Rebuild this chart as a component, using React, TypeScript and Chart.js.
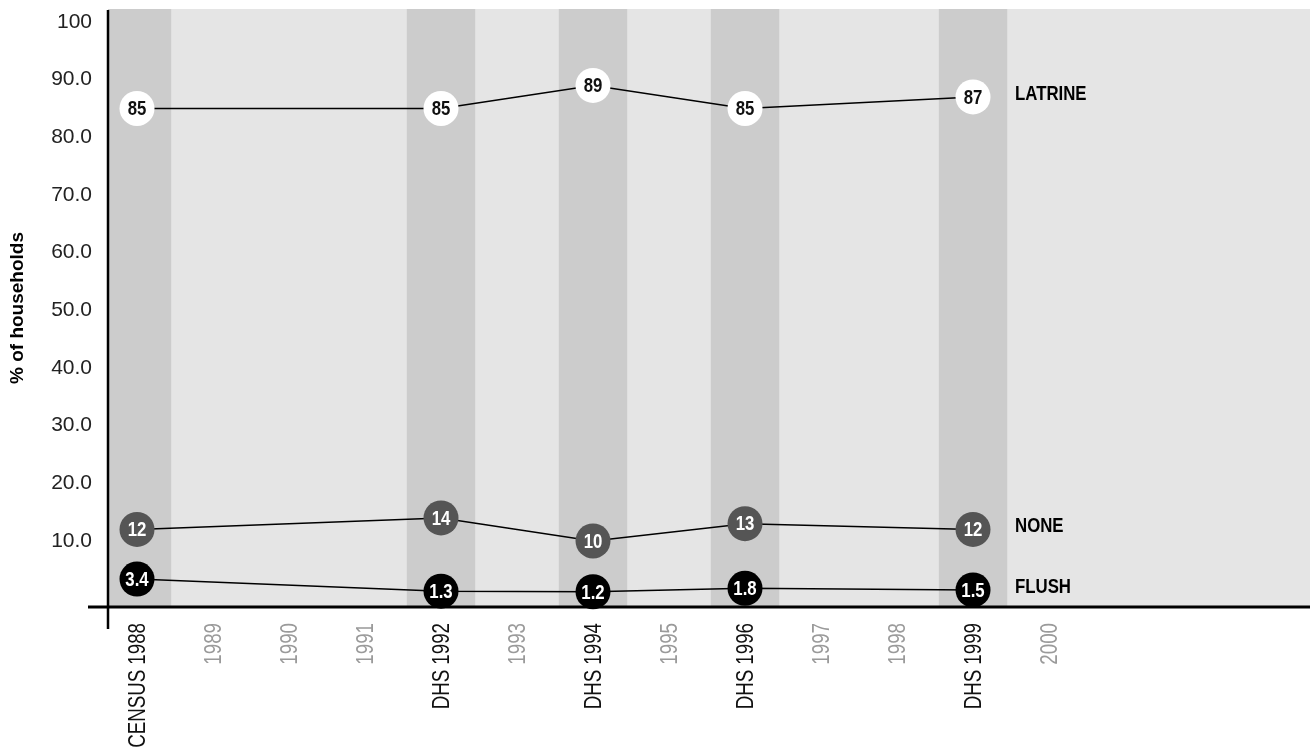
import React, { useEffect, useRef } from "react";
import { Chart, registerables } from "chart.js";

Chart.register(...registerables);

// ---- data ----
const surveyYears = [1988, 1992, 1994, 1996, 1999];
const surveyNames = ["CENSUS 1988", "DHS 1992", "DHS 1994", "DHS 1996", "DHS 1999"];
const tickYears = [1988, 1989, 1990, 1991, 1992, 1993, 1994, 1995, 1996, 1997, 1998, 1999, 2000];
const latrine = [85, 85, 89, 85, 87];
const none = [12, 14, 10, 13, 12];
const flush = [3.4, 1.3, 1.2, 1.8, 1.5];
const yTicks = [10, 20, 30, 40, 50, 60, 70, 80, 90, 100];
const seriesNames = ["LATRINE", "NONE", "FLUSH"];

const REG = "'Liberation Sans', Arial, sans-serif";

const seriesStyle = [
  { fill: "#ffffff", text: "#111111" },
  { fill: "#555555", text: "#ffffff" },
  { fill: "#000000", text: "#ffffff" },
];

// draw text horizontally condensed (no narrow font installed)
function narrowText(ctx: any, text: string, x: number, y: number, sx: number, rot = 0) {
  ctx.save();
  ctx.translate(x, y);
  if (rot) ctx.rotate(rot);
  ctx.scale(sx, 1);
  ctx.fillText(text, 0, 0);
  ctx.restore();
}

const bgPlugin = {
  id: "bgBands",
  beforeDatasetsDraw(chart: any) {
    const { ctx, chartArea: a, scales } = chart;
    const x = scales.x;
    ctx.save();
    ctx.fillStyle = "#e5e5e5";
    ctx.fillRect(a.left, a.top, a.right - a.left, a.bottom - a.top);
    ctx.beginPath();
    ctx.rect(a.left, a.top, a.right - a.left, a.bottom - a.top);
    ctx.clip();
    ctx.fillStyle = "#cccccc";
    surveyYears.forEach((yr) => {
      const l = x.getPixelForValue(yr - 0.45);
      const r = x.getPixelForValue(yr + 0.45);
      ctx.fillRect(l, a.top, r - l, a.bottom - a.top);
    });
    ctx.restore();
    // axis lines
    ctx.save();
    ctx.strokeStyle = "#000";
    ctx.lineWidth = 3;
    ctx.beginPath();
    ctx.moveTo(a.left - 20, a.bottom);
    ctx.lineTo(a.right, a.bottom);
    ctx.stroke();
    ctx.lineWidth = 2.5;
    ctx.beginPath();
    ctx.moveTo(a.left, a.top + 1);
    ctx.lineTo(a.left, a.bottom + 22);
    ctx.stroke();
    ctx.restore();
  },
  afterDraw(chart: any) {
    // x tick labels, rotated and condensed, placed by the x scale
    const { ctx, chartArea: a, scales } = chart;
    const x = scales.x;
    ctx.save();
    ctx.textAlign = "right";
    ctx.textBaseline = "middle";
    ctx.font = `24px ${REG}`;
    tickYears.forEach((yr) => {
      const idx = surveyYears.indexOf(yr);
      const label = idx >= 0 ? surveyNames[idx] : String(yr);
      ctx.fillStyle = idx >= 0 ? "#111" : "#9a9a9a";
      narrowText(ctx, label, x.getPixelForValue(yr) + 1, a.bottom + 16, 0.78, -Math.PI / 2);
    });
    ctx.restore();
  },
};

const labelPlugin = {
  id: "pointLabels",
  afterDatasetsDraw(chart: any) {
    const { ctx } = chart;
    ctx.save();
    ctx.textAlign = "center";
    ctx.textBaseline = "middle";
    chart.data.datasets.forEach((ds: any, di: number) => {
      const meta = chart.getDatasetMeta(di);
      ctx.font = `bold 21px ${REG}`;
      ctx.fillStyle = seriesStyle[di].text;
      meta.data.forEach((pt: any, i: number) => {
        narrowText(ctx, String(ds.data[i].y), pt.x, pt.y + 1, 0.8);
      });
      const last = meta.data[meta.data.length - 1];
      ctx.textAlign = "left";
      ctx.fillStyle = "#000";
      ctx.font = `bold 21px ${REG}`;
      narrowText(ctx, seriesNames[di], last.x + 42, last.y - 3, 0.8);
      ctx.textAlign = "center";
    });
    ctx.restore();
  },
};

const mk = (vals: number[]) => surveyYears.map((yr, i) => ({ x: yr, y: vals[i] }));

export default function App() {
  const ref = useRef<HTMLCanvasElement>(null);
  useEffect(() => {
    document.body.style.margin = "0";
    const datasets = [latrine, none, flush].map((vals, i) => ({
      label: seriesNames[i],
      data: mk(vals),
      borderColor: "#000",
      borderWidth: 1.5,
      pointRadius: 17.5,
      pointHoverRadius: 17.5,
      pointBackgroundColor: seriesStyle[i].fill,
      pointBorderWidth: 0,
      pointBorderColor: seriesStyle[i].fill,
      clip: false as any,
      tension: 0,
    }));
    const chart = new Chart(ref.current!, {
      type: "line",
      data: { datasets },
      options: {
        animation: false,
        responsive: false,
        maintainAspectRatio: false,
        layout: { autoPadding: false, padding: { top: 9, right: 3, left: 0, bottom: 0 } },
        plugins: { legend: { display: false }, tooltip: { enabled: false } },
        scales: {
          x: {
            type: "linear",
            min: 1987.6184,
            max: 2003.434,
            grid: { display: false, drawTicks: false },
            border: { display: false },
            afterBuildTicks: (axis: any) => {
              axis.ticks = tickYears.map((v) => ({ value: v }));
            },
            afterFit: (s: any) => {
              s.height = 141;
              s.paddingLeft = 0;
              s.paddingRight = 0;
            },
            ticks: { display: false, autoSkip: false },
          },
          y: {
            min: -1.45,
            max: 102.25,
            grid: { display: false, drawTicks: false },
            border: { display: false },
            afterBuildTicks: (axis: any) => {
              axis.ticks = yTicks.map((v) => ({ value: v }));
            },
            afterFit: (s: any) => {
              s.width = 108;
              s.paddingTop = 0;
              s.paddingBottom = 0;
            },
            title: {
              display: true,
              text: "% of households",
              color: "#000",
              font: { family: REG, size: 19, weight: "bold" },
              padding: { top: 6, bottom: 0 },
            },
            ticks: {
              padding: 16,
              color: "#222",
              font: { family: REG, size: 21 },
              callback: (v: any) => (Number(v) === 100 ? "100" : Number(v).toFixed(1)),
            },
          },
        },
      },
      plugins: [bgPlugin, labelPlugin],
    });
    return () => chart.destroy();
  }, []);
  return <canvas ref={ref} width={1313} height={748} style={{ display: "block" }} />;
}
